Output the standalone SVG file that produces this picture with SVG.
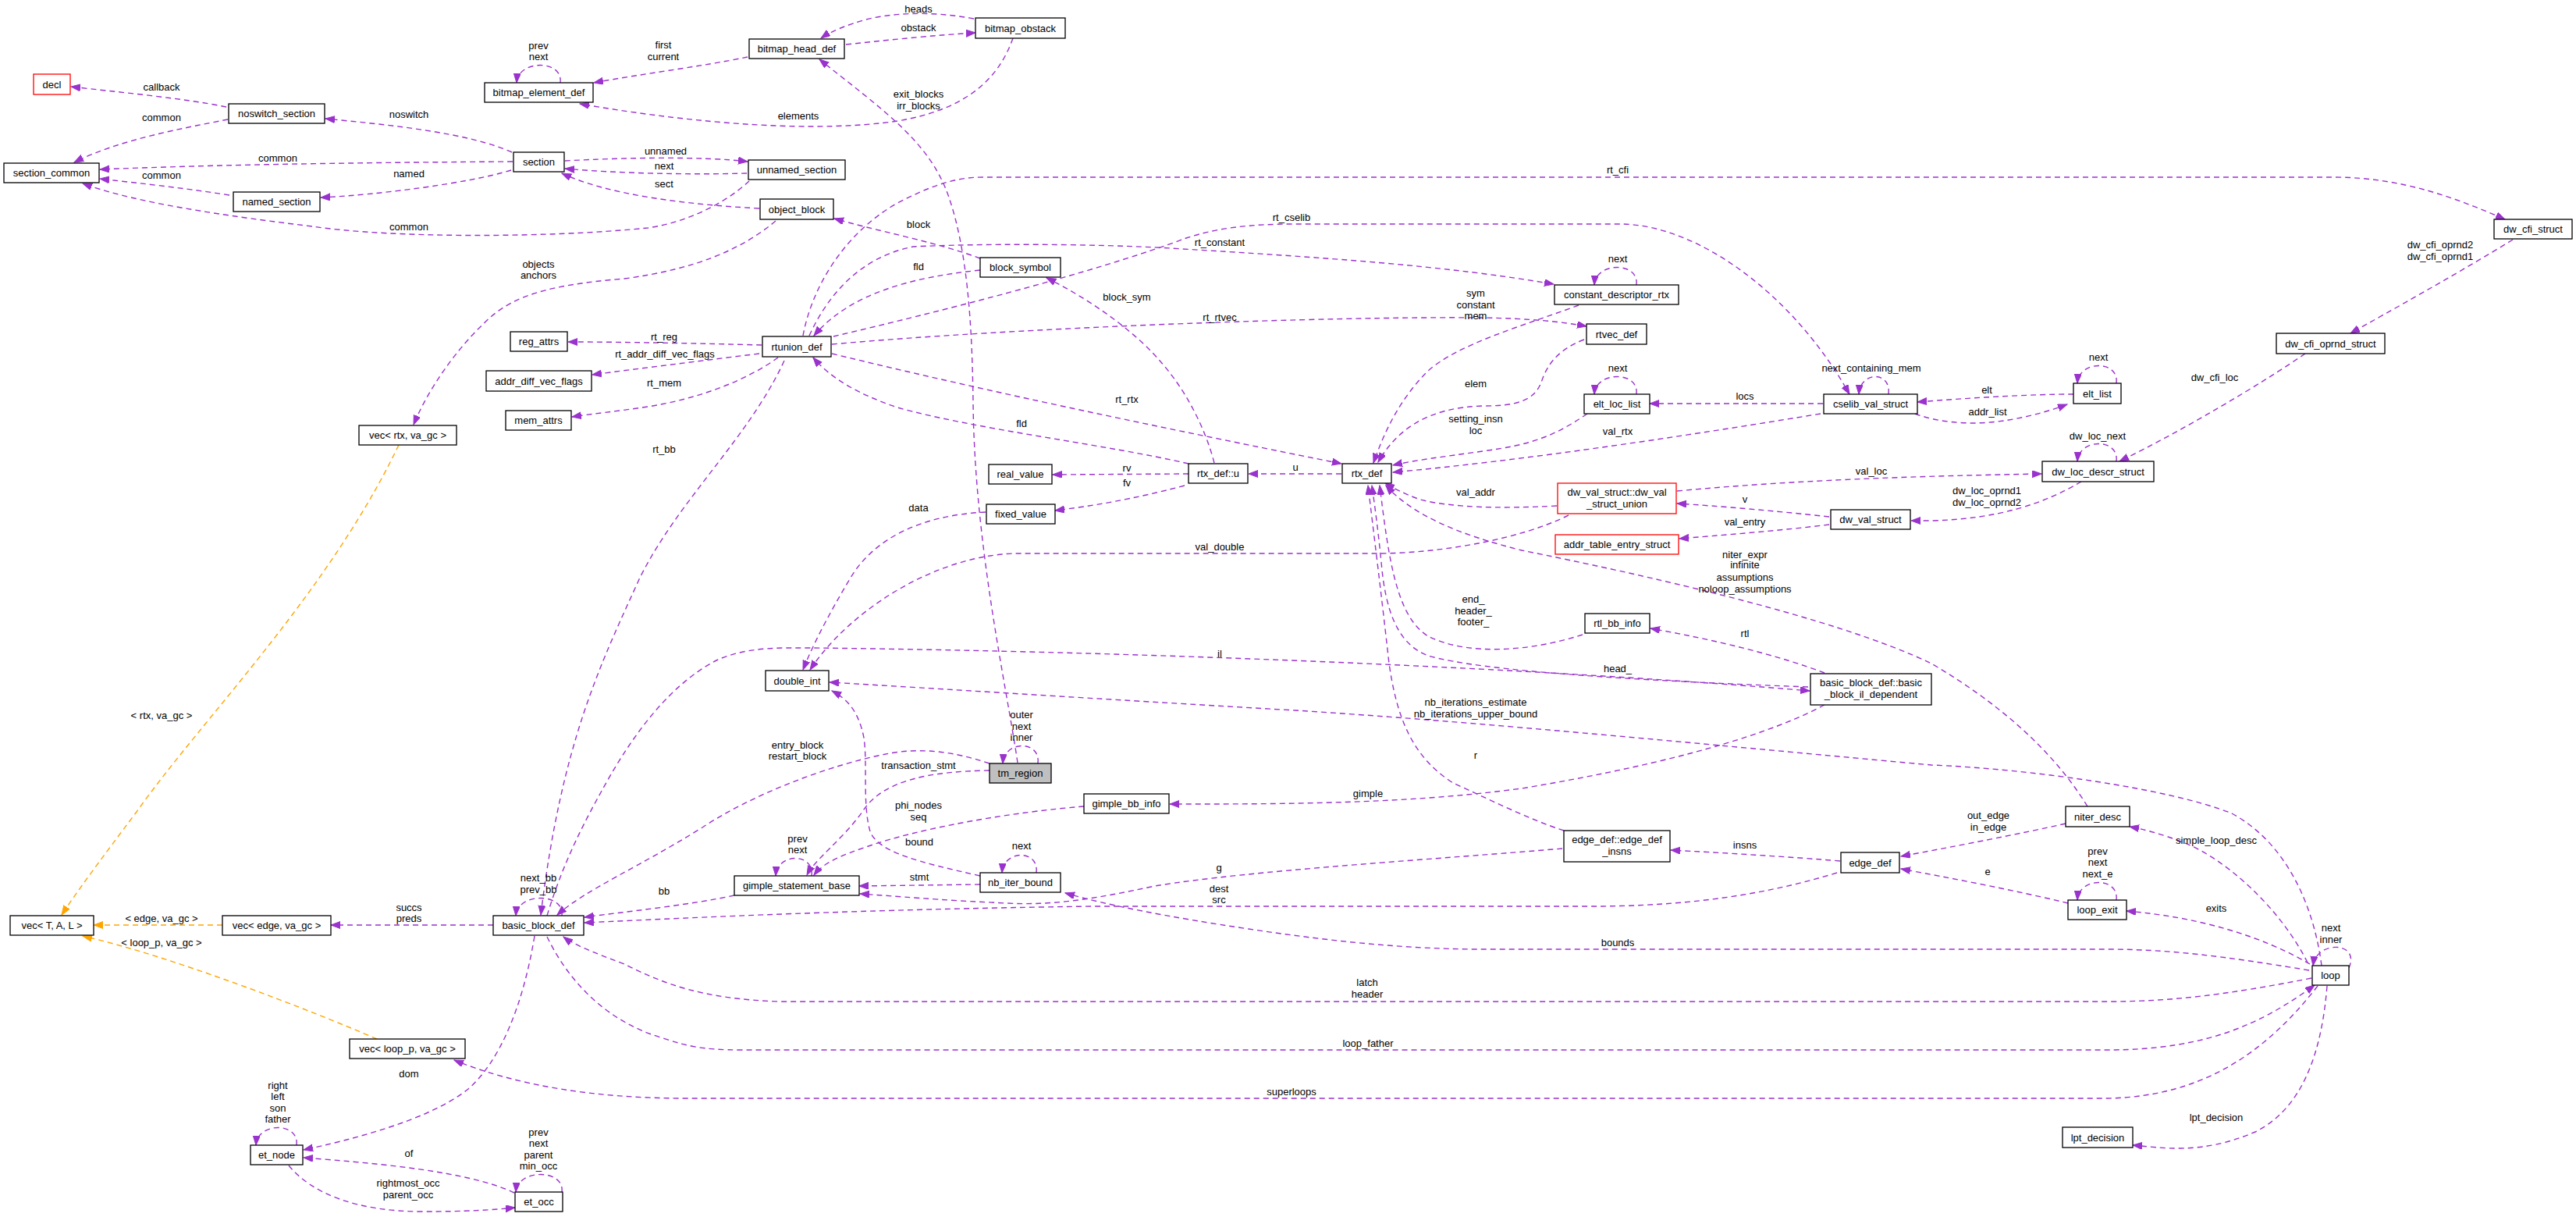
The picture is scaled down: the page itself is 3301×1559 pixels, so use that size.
<svg xmlns="http://www.w3.org/2000/svg" width="3301" height="1559" viewBox="0 0 3301 1559">
<style>
text{font-family:"Liberation Sans",Arial,Helvetica,sans-serif;font-size:13px;fill:#000;text-anchor:middle}
.n rect{fill:#fff;stroke:#000;stroke-width:1.3}
.r rect{stroke:#ff0000}
.root rect{fill:#bfbfbf}
.e{fill:none;stroke:#9a32cd;stroke-width:1.4;stroke-dasharray:7,5;marker-end:url(#ap)}
.o{stroke:#ffa500;marker-end:url(#ao)}
</style>
<defs>
<marker id="ap" markerWidth="13" markerHeight="10" refX="12" refY="4.5" orient="auto" markerUnits="userSpaceOnUse"><path d="M0,0 L12,4.5 L0,9 z" fill="#9a32cd" stroke="#9a32cd" stroke-width="1" stroke-dasharray="none"/></marker>
<marker id="ao" markerWidth="13" markerHeight="10" refX="12" refY="4.5" orient="auto" markerUnits="userSpaceOnUse"><path d="M0,0 L12,4.5 L0,9 z" fill="#ffa500" stroke="#ffa500" stroke-width="1" stroke-dasharray="none"/></marker>
</defs>
<rect width="3301" height="1559" fill="#fff"/>
<g id="edges">
<path class="e" d="M290,137 C230,125 150,118 91,111"/><text x="207" y="116">callback</text>
<path class="e" d="M292,153 C230,165 150,180 95,208"/><text x="207" y="155">common</text>
<path class="e" d="M657,207 C500,208 300,210 128,217"/><text x="356" y="207">common</text>
<path class="e" d="M294,250 C230,240 180,235 128,229"/><text x="207" y="229">common</text>
<path class="e" d="M960,232 C930,260 880,285 830,292 C700,305 500,305 400,290 C250,272 160,255 106,235"/><text x="524" y="295">common</text>
<path class="e" d="M656,195 C600,170 500,160 417,152"/><text x="524" y="151">noswitch</text>
<path class="e" d="M655,218 C600,235 480,250 411,253"/><text x="524" y="227">named</text>
<path class="e" d="M724,206 C800,202 900,200 958,207"/><text x="853" y="198">unnamed</text>
<path class="e" d="M957,222 C880,224 790,222 724,216"/><text x="851" y="217">next</text>
<path class="e" d="M973,267 C880,262 780,250 720,222"/><text x="851" y="240">sect</text>
<path class="e" d="M718,106 C722,76 664,76 662,106"/><text x="690" y="63">prev</text><text x="690" y="77">next</text>
<path class="e" d="M958,73 C900,85 820,95 761,106"/><text x="850" y="62">first</text><text x="850" y="77">current</text>
<path class="e" d="M1298,49 C1280,100 1240,140 1150,155 C1050,170 900,160 743,133"/><text x="1023" y="153">elements</text>
<path class="e" d="M1304,977 C1290,880 1249,700 1247,517 C1246,420 1240,320 1215,250 C1190,180 1130,140 1050,76"/><text x="1177" y="125">exit_blocks</text><text x="1177" y="140">irr_blocks</text>
<path class="e" d="M1084,57 C1150,50 1200,45 1250,42"/><text x="1177" y="40">obstack</text>
<path class="e" d="M1248,24 C1200,15 1150,15 1110,25 C1085,32 1065,40 1052,49"/><text x="1177" y="16">heads</text>
<path class="e" d="M1029,430 C1040,370 1080,300 1150,260 C1190,240 1220,227 1260,227 L2990,227 C3080,227 3150,255 3210,281"/><text x="2073" y="222">rt_cfi</text>
<path class="e" d="M1068,431 C1200,400 1400,350 1520,305 C1560,292 1600,287 1660,287 L2080,287 C2180,290 2300,380 2370,505"/><text x="1655" y="283">rt_cselib</text>
<path class="e" d="M1037,430 C1060,380 1100,330 1170,316 C1250,312 1400,312 1500,318 C1700,330 1850,340 1991,364"/><text x="1563" y="315">rt_constant</text>
<path class="e" d="M1256,331 C1200,310 1120,295 1069,280"/><text x="1177" y="292">block</text>
<path class="e" d="M1556,593 C1545,550 1520,500 1487,463 C1450,420 1390,380 1341,356"/><text x="1444" y="385">block_sym</text>
<path class="e" d="M1256,346 C1170,355 1090,375 1043,430"/><text x="1177" y="346">fld</text>
<path class="e" d="M1523,594 C1420,570 1250,550 1150,522 C1100,505 1065,485 1042,458"/><text x="1309" y="547">fld</text>
<path class="e" d="M1066,441 C1300,420 1700,405 1900,407 C1960,408 2000,412 2033,418"/><text x="1563" y="411">rt_rtvec</text>
<path class="e" d="M976,442 C900,440 800,438 728,438"/><text x="851" y="436">rt_reg</text>
<path class="e" d="M973,453 C900,462 820,472 759,480"/><text x="852" y="458">rt_addr_diff_vec_flags</text>
<path class="e" d="M997,458 C960,485 900,510 830,521 C790,527 760,530 733,534"/><text x="851" y="495">rt_mem</text>
<path class="e" d="M1005,462 C960,560 870,640 820,740 C770,850 720,950 693,1172"/><text x="851" y="580">rt_bb</text>
<path class="e" d="M1066,453 C1300,510 1550,560 1719,594"/><text x="1444" y="516">rt_rtx</text>
<path class="e" d="M1719,607 L1600,607"/><text x="1660" y="603">u</text>
<path class="e" d="M1523,607 L1349,608"/><text x="1444" y="604">rv</text>
<path class="e" d="M1518,622 C1450,640 1400,648 1352,654"/><text x="1444" y="623">fv</text>
<path class="e" d="M1263,656 C1180,660 1120,690 1090,740 C1060,790 1040,830 1029,858"/><text x="1177" y="655">data</text>
<path class="e" d="M2010,660 C1950,690 1850,708 1770,709 L1300,709 C1200,712 1090,780 1038,858"/><text x="1563" y="705">val_double</text>
<path class="e" d="M701,1173 C720,1110 745,1060 770,1015 C800,960 850,880 920,845 C960,828 1000,830 1040,830 C1500,835 2000,858 2319,885"/><text x="1563" y="842">il</text>
<path class="e" d="M2317,880 C2100,872 1900,860 1830,840 C1790,825 1775,780 1770,720 C1766,680 1762,650 1758,622"/><text x="2073" y="861">head_</text>
<path class="e" d="M2028,813 C1960,835 1880,840 1830,815 C1790,790 1780,720 1768,622"/><text x="1888" y="772">end_</text><text x="1888" y="787">header_</text><text x="1888" y="801">footer_</text>
<path class="e" d="M2004,1064 C1960,1050 1900,1020 1862,1003 C1810,970 1790,920 1780,850 C1770,760 1760,680 1753,622"/><text x="1891" y="972">r</text>
<path class="e" d="M2338,862 C2280,840 2200,820 2115,805"/><text x="2236" y="816">rtl</text>
<path class="e" d="M2338,903 C2250,950 2100,985 1950,1010 C1800,1030 1650,1030 1499,1030"/><text x="1753" y="1021">gimple</text>
<path class="e" d="M1389,1033 C1300,1040 1180,1060 1110,1085 C1080,1095 1055,1105 1043,1121"/><text x="1177" y="1036">phi_nodes</text><text x="1177" y="1051">seq</text>
<path class="e" d="M1268,987 C1190,988 1130,1000 1105,1040 C1080,1075 1045,1100 1034,1121"/><text x="1177" y="985">transaction_stmt</text>
<path class="e" d="M1268,978 C1220,962 1180,958 1140,965 C1060,980 960,1020 900,1060 C820,1110 750,1140 714,1172"/><text x="1022" y="959">entry_block</text><text x="1022" y="973">restart_block</text>
<path class="e" d="M1256,1122 C1180,1105 1125,1092 1115,1065 C1105,1030 1112,980 1107,945 C1100,910 1085,895 1066,885"/><text x="1178" y="1083">bound</text>
<path class="e" d="M1256,1133 L1101,1135"/><text x="1178" y="1128">stmt</text>
<path class="e" d="M941,1147 C880,1160 800,1168 749,1175"/><text x="851" y="1146">bb</text>
<path class="e" d="M2354,1118 C2250,1150 2150,1160 2050,1161 L1400,1161 C1100,1165 900,1175 749,1182"/><text x="1562" y="1143">dest</text><text x="1562" y="1157">src</text>
<path class="e" d="M2002,1087 C1850,1100 1600,1115 1480,1135 C1400,1152 1350,1160 1290,1157 C1200,1153 1150,1148 1102,1145"/><text x="1562" y="1116">g</text>
<path class="e" d="M2358,1103 C2300,1098 2200,1092 2141,1089"/><text x="2236" y="1087">insns</text>
<path class="e" d="M632,1185 L424,1185"/><text x="524" y="1167">succs</text><text x="524" y="1181">preds</text>
<path class="e o" d="M285,1185 L120,1185"/><text x="207" y="1181">&lt; edge, va_gc &gt;</text>
<path class="e o" d="M483,1331 C400,1295 220,1225 106,1199"/><text x="207" y="1212">&lt; loop_p, va_gc &gt;</text>
<path class="e o" d="M511,570 C420,760 260,920 175,1040 C130,1100 100,1140 79,1172"/><text x="207" y="921">&lt; rtx, va_gc &gt;</text>
<path class="e" d="M994,283 C950,320 890,345 800,357 C700,365 660,380 630,405 C585,445 548,500 530,544"/><text x="690" y="343">objects</text><text x="690" y="357">anchors</text>
<path class="e" d="M685,1199 C670,1290 640,1360 600,1395 C550,1435 450,1460 389,1473"/><text x="524" y="1380">dom</text>
<path class="e" d="M380,1467 C384,1437 330,1437 328,1467"/><text x="356" y="1395">right</text><text x="356" y="1409">left</text><text x="356" y="1424">son</text><text x="356" y="1438">father</text>
<path class="e" d="M659,1528 C600,1500 480,1490 389,1483"/><text x="524" y="1482">of</text>
<path class="e" d="M370,1493 C400,1530 460,1552 540,1552 C600,1552 630,1550 660,1547"/><text x="523" y="1520">rightmost_occ</text><text x="523" y="1535">parent_occ</text>
<path class="e" d="M720,1527 C724,1497 663,1497 661,1527"/><text x="690" y="1455">prev</text><text x="690" y="1469">next</text><text x="690" y="1484">parent</text><text x="690" y="1498">min_occ</text>
<path class="e" d="M720,1173 C724,1143 663,1143 661,1173"/><text x="690" y="1129">next_bb</text><text x="690" y="1144">prev_bb</text>
<path class="e" d="M2970,1263 C2910,1340 2830,1405 2700,1407 L880,1407 C760,1407 660,1390 582,1358"/><text x="1655" y="1403">superloops</text>
<path class="e" d="M701,1200 C730,1260 780,1310 850,1330 C880,1340 900,1345 950,1345 L2700,1345 C2830,1345 2900,1310 2966,1262"/><text x="1753" y="1341">loop_father</text>
<path class="e" d="M2962,1253 C2850,1275 2780,1283 2700,1283 L1000,1283 C900,1280 850,1260 800,1235 C760,1220 735,1210 722,1200"/><text x="1752" y="1263">latch</text><text x="1752" y="1278">header</text>
<path class="e" d="M2959,1243 C2850,1225 2780,1216 2700,1216 L1900,1216 C1800,1216 1700,1205 1600,1190 C1500,1175 1420,1160 1365,1144"/><text x="2073" y="1212">bounds</text>
<path class="e" d="M2957,1233 C2920,1160 2850,1100 2800,1080 C2770,1068 2745,1062 2729,1059"/><text x="2840" y="1081">simple_loop_desc</text>
<path class="e" d="M2960,1235 C2900,1200 2820,1175 2725,1167"/><text x="2840" y="1168">exits</text>
<path class="e" d="M3010,1240 C3025,1205 2968,1205 2964,1237"/><text x="2987" y="1193">next</text><text x="2987" y="1208">inner</text>
<path class="e" d="M2982,1263 C2975,1350 2950,1420 2890,1450 C2820,1480 2770,1470 2733,1467"/><text x="2840" y="1436">lpt_decision</text>
<path class="e" d="M2975,1237 C2965,1160 2930,1080 2860,1042 C2780,1010 2600,985 2475,980 C2200,955 1900,925 1660,910 C1400,895 1200,882 1063,874"/><text x="1891" y="904">nb_iterations_estimate</text><text x="1891" y="919">nb_iterations_upper_bound</text>
<path class="e" d="M2675,1033 C2630,960 2560,900 2475,850 C2350,790 2100,735 1950,705 C1870,685 1810,660 1776,622"/><text x="2236" y="715">niter_expr</text><text x="2236" y="728">infinite</text><text x="2236" y="744">assumptions</text><text x="2236" y="759">noloop_assumptions</text>
<path class="e" d="M2647,1055 C2580,1070 2500,1085 2436,1097"/><text x="2548" y="1049">out_edge</text><text x="2548" y="1064">in_edge</text>
<path class="e" d="M2650,1157 C2580,1140 2500,1125 2436,1113"/><text x="2547" y="1121">e</text>
<path class="e" d="M2712,1153 C2716,1123 2664,1123 2662,1153"/><text x="2688" y="1095">prev</text><text x="2688" y="1109">next</text><text x="2688" y="1124">next_e</text>
<path class="e" d="M2344,662 C2280,655 2200,648 2149,645"/><text x="2236" y="644">v</text>
<path class="e" d="M2344,672 C2280,680 2200,686 2152,690"/><text x="2236" y="673">val_entry</text>
<path class="e" d="M1995,648 C1920,652 1860,650 1820,640 C1800,633 1785,625 1775,619"/><text x="1891" y="635">val_addr</text>
<path class="e" d="M2149,629 C2300,615 2450,610 2616,607"/><text x="2398" y="608">val_loc</text>
<path class="e" d="M2667,617 C2620,645 2560,665 2475,667 L2449,667"/><text x="2546" y="633">dw_loc_oprnd1</text><text x="2546" y="648">dw_loc_oprnd2</text>
<path class="e" d="M2712,591 C2716,561 2664,561 2662,591"/><text x="2688" y="563">dw_loc_next</text>
<path class="e" d="M2954,453 C2900,490 2800,550 2716,591"/><text x="2838" y="488">dw_cfi_loc</text>
<path class="e" d="M3220,307 C3150,350 3060,400 3012,427"/><text x="3127" y="318">dw_cfi_oprnd2</text><text x="3127" y="333">dw_cfi_oprnd1</text>
<path class="e" d="M2336,517 L2114,517"/><text x="2236" y="512">locs</text>
<path class="e" d="M2420,505 C2424,475 2384,475 2382,505"/><text x="2398" y="476">next_containing_mem</text>
<path class="e" d="M2097,505 C2101,475 2045,475 2043,505"/><text x="2073" y="476">next</text>
<path class="e" d="M2097,365 C2101,335 2045,335 2043,365"/><text x="2073" y="336">next</text>
<path class="e" d="M2023,391 C1950,418 1870,440 1830,475 C1795,510 1775,550 1760,593"/><text x="1891" y="380">sym</text><text x="1891" y="395">constant</text><text x="1891" y="409">mem</text>
<path class="e" d="M2030,435 C1990,450 1980,475 1975,490 C1965,515 1940,520 1900,520 C1830,522 1790,550 1766,592"/><text x="1891" y="496">elem</text>
<path class="e" d="M2034,530 C1990,560 1960,570 1900,578 C1850,585 1810,590 1785,596"/><text x="1891" y="541">setting_insn</text><text x="1891" y="556">loc</text>
<path class="e" d="M2333,530 C2150,560 1950,590 1785,605"/><text x="2073" y="557">val_rtx</text>
<path class="e" d="M2454,530 C2480,540 2520,545 2560,540 C2600,535 2630,525 2649,518"/><text x="2547" y="532">addr_list</text>
<path class="e" d="M2657,505 C2600,505 2520,510 2457,515"/><text x="2546" y="504">elt</text>
<path class="e" d="M2712,491 C2716,461 2664,461 2662,491"/><text x="2689" y="462">next</text>
<path class="e" d="M1330,978 C1334,948 1287,948 1285,978"/><text x="1309" y="920">outer</text><text x="1309" y="935">next</text><text x="1309" y="949">inner</text>
<path class="e" d="M1040,1122 C1044,1092 996,1092 994,1122"/><text x="1022" y="1079">prev</text><text x="1022" y="1093">next</text>
<path class="e" d="M1328,1118 C1332,1088 1286,1088 1284,1118"/><text x="1309" y="1088">next</text>
</g>
<g id="n_decl" class="n r"><rect x="43" y="95" width="47" height="26"/><text x="66.5" y="112.5">decl</text></g>
<g id="n_noswitch_section" class="n"><rect x="293" y="133" width="123" height="25"/><text x="354.5" y="150">noswitch_section</text></g>
<g id="n_section_common" class="n"><rect x="5" y="209" width="122" height="25"/><text x="66" y="226">section_common</text></g>
<g id="n_named_section" class="n"><rect x="299" y="246" width="111" height="25"/><text x="354.5" y="263">named_section</text></g>
<g id="n_section" class="n"><rect x="658" y="195" width="65" height="25"/><text x="690.5" y="212">section</text></g>
<g id="n_bitmap_element_def" class="n"><rect x="621" y="106" width="139" height="25"/><text x="690.5" y="123">bitmap_element_def</text></g>
<g id="n_reg_attrs" class="n"><rect x="654" y="425" width="73" height="25"/><text x="690.5" y="442">reg_attrs</text></g>
<g id="n_addr_diff_vec_flags" class="n"><rect x="623" y="475" width="135" height="26"/><text x="690.5" y="492.5">addr_diff_vec_flags</text></g>
<g id="n_bitmap_head_def" class="n"><rect x="960" y="50" width="122" height="25"/><text x="1021" y="67">bitmap_head_def</text></g>
<g id="n_bitmap_obstack" class="n"><rect x="1250" y="23" width="115" height="26"/><text x="1307.5" y="40.5">bitmap_obstack</text></g>
<g id="n_unnamed_section" class="n"><rect x="959" y="205" width="124" height="25"/><text x="1021" y="222">unnamed_section</text></g>
<g id="n_object_block" class="n"><rect x="974" y="255" width="94" height="26"/><text x="1021" y="272.5">object_block</text></g>
<g id="n_block_symbol" class="n"><rect x="1256" y="330" width="103" height="25"/><text x="1307.5" y="347">block_symbol</text></g>
<g id="n_rtunion_def" class="n"><rect x="977" y="431" width="88" height="26"/><text x="1021" y="448.5">rtunion_def</text></g>
<g id="n_constant_descriptor_rtx" class="n"><rect x="1992" y="365" width="159" height="25"/><text x="2071.5" y="382">constant_descriptor_rtx</text></g>
<g id="n_rtvec_def" class="n"><rect x="2033" y="415" width="77" height="26"/><text x="2071.5" y="432.5">rtvec_def</text></g>
<g id="n_elt_loc_list" class="n"><rect x="2030" y="505" width="84" height="25"/><text x="2072" y="522">elt_loc_list</text></g>
<g id="n_cselib_val_struct" class="n"><rect x="2337" y="505" width="120" height="25"/><text x="2397" y="522">cselib_val_struct</text></g>
<g id="n_dw_cfi_struct" class="n"><rect x="3196" y="281" width="100" height="25"/><text x="3246" y="298">dw_cfi_struct</text></g>
<g id="n_dw_cfi_oprnd_struct" class="n"><rect x="2917" y="427" width="139" height="26"/><text x="2986.5" y="444.5">dw_cfi_oprnd_struct</text></g>
<g id="n_elt_list" class="n"><rect x="2657" y="491" width="61" height="26"/><text x="2687.5" y="508.5">elt_list</text></g>
<g id="n_vec_rtx" class="n"><rect x="460" y="545" width="125" height="25"/><text x="522.5" y="562">vec&lt; rtx, va_gc &gt;</text></g>
<g id="n_mem_attrs" class="n"><rect x="648" y="526" width="84" height="25"/><text x="690" y="543">mem_attrs</text></g>
<g id="n_real_value" class="n"><rect x="1267" y="595" width="81" height="25"/><text x="1307.5" y="612">real_value</text></g>
<g id="n_rtx_def_u" class="n"><rect x="1523" y="594" width="76" height="25"/><text x="1561" y="611">rtx_def::u</text></g>
<g id="n_fixed_value" class="n"><rect x="1264" y="646" width="88" height="25"/><text x="1308" y="663">fixed_value</text></g>
<g id="n_double_int" class="n"><rect x="981" y="859" width="81" height="26"/><text x="1021.5" y="876.5">double_int</text></g>
<g id="n_tm_region" class="n root"><rect x="1268" y="978" width="79" height="25"/><text x="1307.5" y="995">tm_region</text></g>
<g id="n_gimple_bb_info" class="n"><rect x="1389" y="1017" width="109" height="25"/><text x="1443.5" y="1034">gimple_bb_info</text></g>
<g id="n_rtx_def" class="n"><rect x="1720" y="594" width="63" height="25"/><text x="1751.5" y="611">rtx_def</text></g>
<g id="n_dw_val_struct_union" class="n r"><rect x="1996" y="619" width="152" height="39"/><text x="2072" y="634.5">dw_val_struct::dw_val</text><text x="2072" y="649.5">_struct_union</text></g>
<g id="n_dw_val_struct" class="n"><rect x="2346" y="653" width="102" height="25"/><text x="2397" y="670">dw_val_struct</text></g>
<g id="n_addr_table_entry_struct" class="n r"><rect x="1993" y="685" width="158" height="25"/><text x="2072" y="702">addr_table_entry_struct</text></g>
<g id="n_rtl_bb_info" class="n"><rect x="2031" y="786" width="83" height="25"/><text x="2072.5" y="803">rtl_bb_info</text></g>
<g id="n_basic_block_il_dependent" class="n"><rect x="2320" y="863" width="155" height="40"/><text x="2397.5" y="879">basic_block_def::basic</text><text x="2397.5" y="894">_block_il_dependent</text></g>
<g id="n_dw_loc_descr_struct" class="n"><rect x="2617" y="591" width="143" height="26"/><text x="2688.5" y="608.5">dw_loc_descr_struct</text></g>
<g id="n_niter_desc" class="n"><rect x="2647" y="1033" width="82" height="26"/><text x="2688" y="1050.5">niter_desc</text></g>
<g id="n_vec_T_A_L" class="n"><rect x="13" y="1173" width="107" height="25"/><text x="66.5" y="1190">vec&lt; T, A, L &gt;</text></g>
<g id="n_vec_edge" class="n"><rect x="285" y="1173" width="139" height="25"/><text x="354.5" y="1190">vec&lt; edge, va_gc &gt;</text></g>
<g id="n_basic_block_def" class="n"><rect x="632" y="1173" width="116" height="25"/><text x="690" y="1190">basic_block_def</text></g>
<g id="n_vec_loop_p" class="n"><rect x="448" y="1331" width="148" height="25"/><text x="522" y="1348">vec&lt; loop_p, va_gc &gt;</text></g>
<g id="n_et_node" class="n"><rect x="321" y="1467" width="67" height="25"/><text x="354.5" y="1484">et_node</text></g>
<g id="n_et_occ" class="n"><rect x="660" y="1527" width="61" height="25"/><text x="690.5" y="1544">et_occ</text></g>
<g id="n_gimple_statement_base" class="n"><rect x="941" y="1122" width="160" height="25"/><text x="1021" y="1139">gimple_statement_base</text></g>
<g id="n_nb_iter_bound" class="n"><rect x="1256" y="1118" width="103" height="25"/><text x="1307.5" y="1135">nb_iter_bound</text></g>
<g id="n_edge_def_insns" class="n"><rect x="2004" y="1064" width="136" height="40"/><text x="2072" y="1080">edge_def::edge_def</text><text x="2072" y="1095">_insns</text></g>
<g id="n_edge_def" class="n"><rect x="2359" y="1092" width="75" height="26"/><text x="2396.5" y="1109.5">edge_def</text></g>
<g id="n_loop_exit" class="n"><rect x="2650" y="1153" width="75" height="25"/><text x="2687.5" y="1170">loop_exit</text></g>
<g id="n_loop" class="n"><rect x="2963" y="1237" width="47" height="25"/><text x="2986.5" y="1254">loop</text></g>
<g id="n_lpt_decision" class="n"><rect x="2643" y="1444" width="90" height="26"/><text x="2688" y="1461.5">lpt_decision</text></g>
</svg>
